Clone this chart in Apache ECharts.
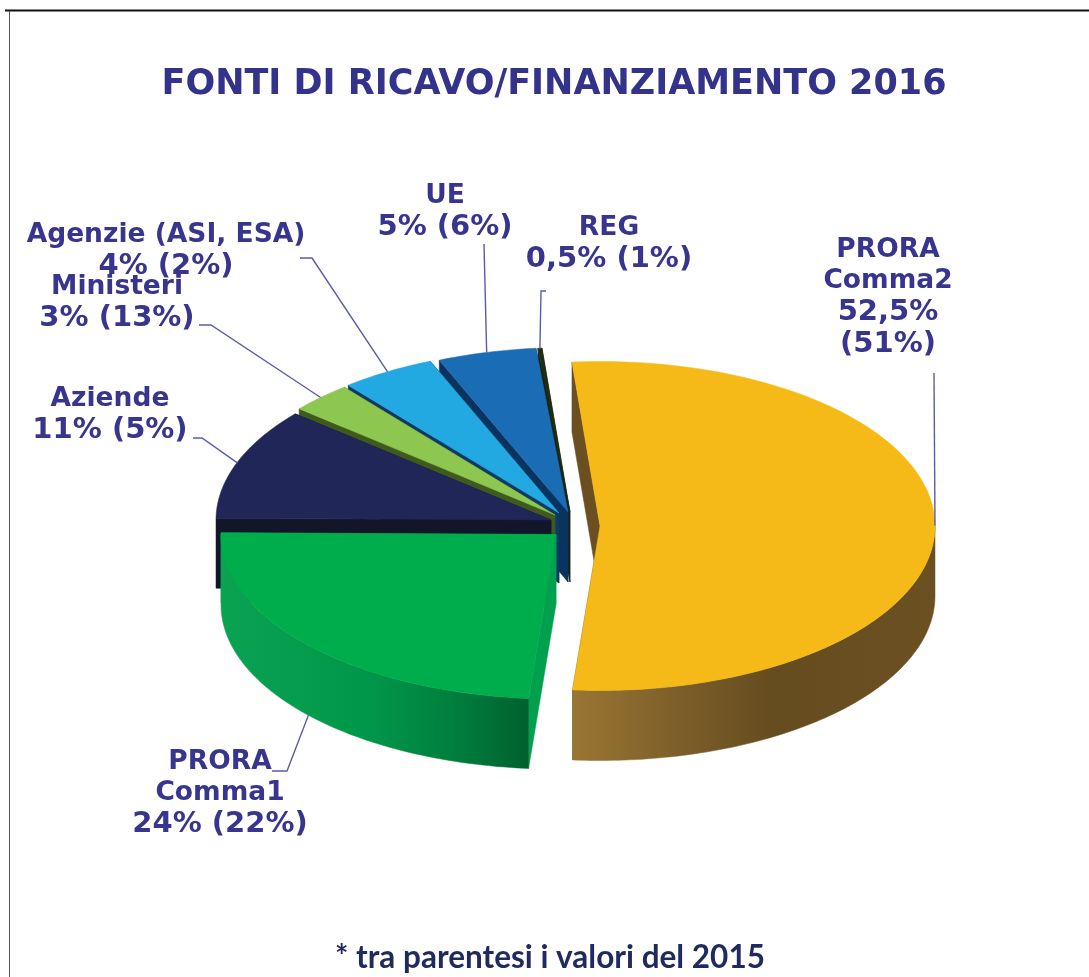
<!DOCTYPE html>
<html><head><meta charset="utf-8">
<style>html,body{margin:0;padding:0;background:#fff}#c{width:1089px;height:977px}</style>
<script src="https://cdn.jsdelivr.net/npm/echarts@6/dist/echarts.min.js"></script>
</head><body><div id="c"></div>
<script>
// Data, clockwise from the first slice
const categories = ['PRORA\nComma2', 'PRORA\nComma1', 'Aziende', 'Ministeri', 'Agenzie (ASI, ESA)', 'UE', 'REG'];
const values2016 = [52.5, 24, 11, 3, 4, 5, 0.5];
const values2015 = [51, 22, 5, 13, 2, 6, 1];

// Styling and layout
const firstSliceAngle = -4.8, rx = 335, ry = 164.5, depth = 70;
const centers = [[600,526],[556,534.5],[551,520],[555,515],[559,513],[568,512],[570,512]];
const perspectiveShift = [0,0.5,0,0,0,2,1.1,0]; // small per-boundary correction for the 3D view
const topColors = ['#F6BA18','#00AD4C','#212658','#8EC74F','#22A9E1','#1A6DB5','#1F2E12'];
const cutColors = ['#6B4F20','#00A04F','#111628','#3E5A1F','#0B3A66','#0A3360','#15240F'];
const rimColors = [
  [[0,'#9A7633'],[0.3,'#7C5E29'],[0.55,'#654C1F'],[1,'#6B5022']],
  [[0,'#0AA352'],[0.5,'#009649'],[0.8,'#007A3B'],[1,'#00602E']],
  null,null,null,null,null];
const labelCenters = [[888,234],[220,746],[110,383],[117,271],[166,219],[445,180],[609,212]];
const labelBreakPct = [true,false,false,false,false,false,false];
const leaderKnots = [
  [[934,373]],
  [[272,771],[287,771]],
  [[193,438],[202,438]],
  [[199,325],[211,325]],
  [[300,258],[312,258]],
  [[484,244]],
  [[546,291],[541,291]]
];
const textColor = '#38358F', leaderColor = '#5B5CA6';
const labelRich = {
  n:{fontFamily:'DejaVu Sans',fontWeight:'bold',fontSize:26.5,fill:textColor,lineHeight:31.5},
  p:{fontFamily:'DejaVu Sans',fontWeight:'bold',fontSize:29,fill:textColor,lineHeight:31.5}
};

const total = values2016.reduce((a,b)=>a+b,0);
const fmt = v => String(v).replace('.',',');
const rad = a => a*Math.PI/180;
const rim = (c,a,d=0) => [c[0]+rx*Math.sin(rad(a)), c[1]-ry*Math.cos(rad(a))+d];
function sliceAngles(i){
  let cum=0; for(let k=0;k<i;k++) cum+=values2016[k];
  return [firstSliceAngle+cum/total*360+perspectiveShift[i],
          firstSliceAngle+(cum+values2016[i])/total*360+perspectiveShift[i+1]];
}
function arcPts(c,a0,a1,d){
  const pts=[]; const n=Math.max(2,Math.ceil(Math.abs(a1-a0)));
  for(let i=0;i<=n;i++) pts.push(rim(c,a0+(a1-a0)*i/n,d));
  return pts;
}
function poly(points,fill){
  return {type:'polygon',shape:{points},style:{fill,stroke:fill,lineWidth:0.5},silent:true};
}
function renderItem(params,api){
  const i=api.value(0);
  const [a0,a1]=sliceAngles(i);
  const c=centers[i], ch=[];
  const r0=rim(c,a0), r1=rim(c,a1);
  const cdn=[c[0],c[1]+depth];
  ch.push(poly([c,r0,[r0[0],r0[1]+depth],cdn],cutColors[i]));
  ch.push(poly([c,r1,[r1[0],r1[1]+depth],cdn],cutColors[i]));
  const f0=Math.max(a0,90), f1=Math.min(a1,270);
  if(f1>f0){
    const pts=arcPts(c,f0,f1,0).concat(arcPts(c,f1,f0,depth));
    const fill=rimColors[i]?new echarts.graphic.LinearGradient(0,0,1,0,
      rimColors[i].map(s=>({offset:s[0],color:s[1]}))):cutColors[i];
    ch.push(poly(pts,fill));
  }
  ch.push(poly([c].concat(arcPts(c,a0,a1,0)),topColors[i]));
  return {type:'group',children:ch};
}
function renderLabel(params,api){
  const i=api.value(0), v=api.value(1), p=api.value(2);
  const [a0,a1]=sliceAngles(i), mid=(a0+a1)/2;
  const end=rim(centers[i],mid,Math.cos(rad(mid))<-0.1?depth:0);
  const pts=leaderKnots[i].concat([end]);
  const nameLines=categories[i].split('\n').map(s=>'{n|'+s+'}');
  const pct=labelBreakPct[i]
    ? ['{p|'+fmt(v)+'%}','{p|('+fmt(p)+'%)}']
    : ['{p|'+fmt(v)+'% ('+fmt(p)+'%)}'];
  return {type:'group',children:[
    {type:'polyline',shape:{points:pts},style:{stroke:leaderColor,fill:null,lineWidth:1.4},silent:true},
    {type:'text',x:labelCenters[i][0],y:labelCenters[i][1],silent:true,
     style:{text:nameLines.concat(pct).join('\n'),rich:labelRich,align:'center',verticalAlign:'top'}}
  ]};
}
const order=values2016.map((_,i)=>i).reverse();
const rows=order.map(i=>[i,values2016[i],values2015[i]]);
const chart=echarts.init(document.getElementById('c'),null,{renderer:'canvas'});
chart.setOption({
  animation:false,
  backgroundColor:'#fff',
  title:[
    {text:'FONTI DI RICAVO/FINANZIAMENTO 2016',left:549,top:62,textAlign:'center',
     textStyle:{fontFamily:'DejaVu Sans',fontWeight:'bold',fontSize:35,color:'#33338C'}},
    {text:'* tra parentesi i valori del 2015',left:545,top:937,textAlign:'center',
     textStyle:{fontFamily:'Lato',fontWeight:'bold',fontSize:31.5,color:'#1F2A5E'}}
  ],
  graphic:[
    {type:'line',shape:{x1:5,y1:10.5,x2:1089,y2:10.5},style:{stroke:'#111',lineWidth:2}},
    {type:'line',shape:{x1:9.5,y1:11,x2:9.5,y2:977},style:{stroke:'#555',lineWidth:1}}
  ],
  series:[
    {type:'custom',coordinateSystem:'none',renderItem:renderItem,data:rows,z:2},
    {type:'custom',coordinateSystem:'none',renderItem:renderLabel,data:rows,z:3}
  ]
});
</script></body></html>
